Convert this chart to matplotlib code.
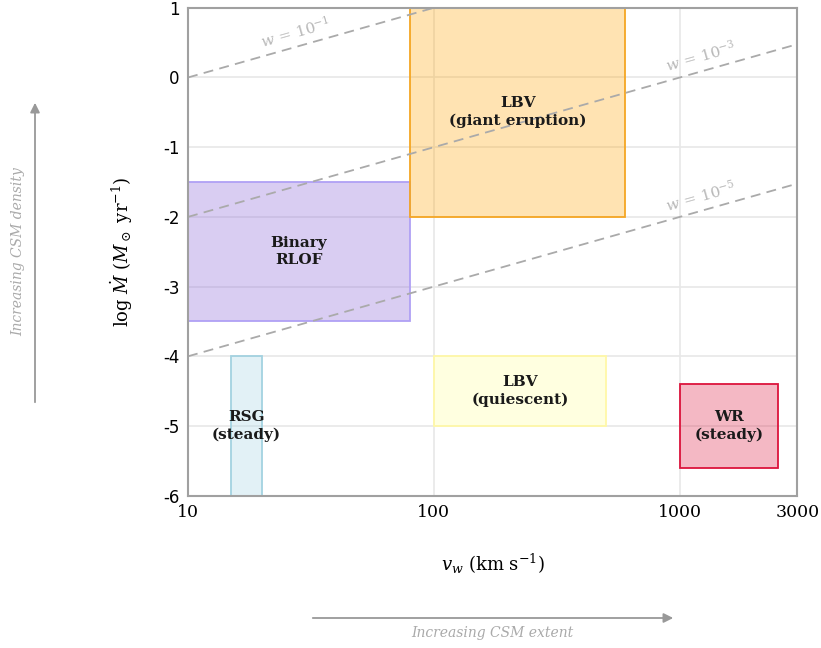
import numpy as np
import matplotlib.pyplot as plt
from matplotlib.patches import Rectangle, FancyArrowPatch

plt.rcParams['mathtext.fontset'] = 'dejavuserif'

# source regions: name, v_w range (km/s), log Mdot range
labels = ['RSG\n(steady)', 'Binary\nRLOF', 'LBV\n(giant eruption)',
          'LBV\n(quiescent)', 'WR\n(steady)']
v_lo = [15, 10, 80, 100, 1000]
v_hi = [20, 80, 600, 500, 2500]
m_lo = [-6, -3.5, -2, -5, -5.6]
m_hi = [-4, -1.5, 1, -4, -4.4]
face = ['#add8e6', '#9370db', '#ffa500', '#ffff66', '#dc143c']
edge = ['#a3d2e0', '#b0a0f5', '#f5a623', '#fff8a8', '#dc143c']
alpha = [0.35, 0.35, 0.3, 0.2, 0.3]

# lines of constant wind density parameter
w_exp = [-1, -3, -5]
w_lab_v = [28, 1250, 1250]

xticks = [10, 100, 1000, 3000]
yticks = [1, 0, -1, -2, -3, -4, -5, -6]

fig = plt.figure(figsize=(8.21, 6.48), dpi=100)
ax = fig.add_axes([0.229, 0.235, 0.742, 0.753])
ax.set_xscale('log')
ax.set_xlim(10, 3000)
ax.set_ylim(-6, 1)

ax.grid(True, which='major', color='#e8e8e8', lw=1.2, zorder=3)
ax.minorticks_off()

for lab, x0, x1, y0, y1, fc, ec, a in zip(labels, v_lo, v_hi, m_lo, m_hi, face, edge, alpha):
    ax.add_patch(Rectangle((x0, y0), x1 - x0, y1 - y0, facecolor=fc, alpha=a,
                           edgecolor='none', zorder=2))
    ax.add_patch(Rectangle((x0, y0), x1 - x0, y1 - y0, facecolor='none',
                           edgecolor=ec, lw=1.3, zorder=4))
    ax.text(np.sqrt(x0 * x1), (y0 + y1) / 2, lab, ha='center', va='center',
            fontsize=11, fontweight='bold', family='DejaVu Serif',
            color='#1a1a1a', linespacing=1.3, zorder=6)

v = np.logspace(1, np.log10(3000), 50)
for e, vl in zip(w_exp, w_lab_v):
    ax.plot(v, e + np.log10(v), ls=(0, (5.5, 3.5)), color='#aaaaaa', lw=1.3, zorder=5)
    ax.annotate(r'$w\,=\,10^{%d}$' % e, (vl, e + np.log10(vl)),
                xytext=(0, 4), textcoords='offset points',
                rotation=15.8, rotation_mode='anchor', ha='center', va='bottom',
                fontsize=11, color='#b8b8b8', zorder=6)

ax.set_xticks(xticks)
ax.set_xticklabels([str(t) for t in xticks], family='DejaVu Serif', fontsize=12.5)
ax.set_yticks(yticks)
ax.set_yticklabels([str(t) for t in yticks], family='DejaVu Sans', fontsize=12)
ax.tick_params(length=0, pad=6)

for s in ax.spines.values():
    s.set_color('#a0a0a0')
    s.set_linewidth(1.5)
    s.set_zorder(7)

ax.set_xlabel(r'$v_w\ (\mathrm{km\ s^{-1}})$', fontsize=13, labelpad=22)
ax.set_ylabel(r'$\log\,\dot{M}\ (M_\odot\ \mathrm{yr}^{-1})$', fontsize=13, labelpad=20)

# direction arrows
fig.patches.append(FancyArrowPatch(
    (35 / 821, 1 - 405 / 648), (35 / 821, 1 - 100 / 648), transform=fig.transFigure,
    arrowstyle='-|>', mutation_scale=14, color='#999999', lw=1.3))
fig.text(18 / 821, 1 - 252 / 648, 'Increasing CSM density', rotation=90,
         ha='center', va='center', style='italic', family='DejaVu Serif',
         fontsize=10, color='#aaaaaa')
fig.patches.append(FancyArrowPatch(
    (310 / 821, 1 - 618 / 648), (676 / 821, 1 - 618 / 648), transform=fig.transFigure,
    arrowstyle='-|>', mutation_scale=14, color='#999999', lw=1.3))
fig.text(492 / 821, 1 - 633 / 648, 'Increasing CSM extent', ha='center', va='center',
         style='italic', family='DejaVu Serif', fontsize=10, color='#aaaaaa')

fig.savefig('out.png', dpi=100)
